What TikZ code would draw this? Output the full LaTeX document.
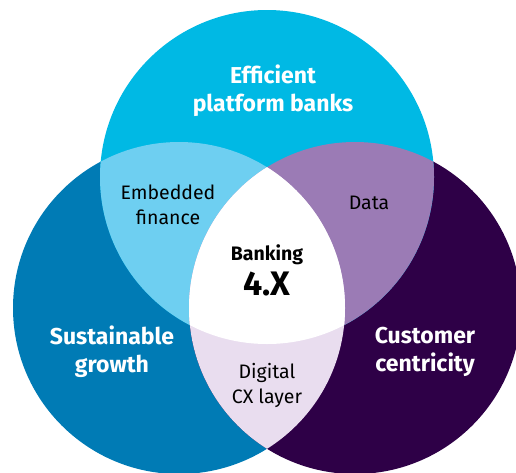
\documentclass[tikz,border=0pt]{standalone}
\usepackage{fontspec}
\setmainfont{Fira Sans}
\definecolor{topcyan}{RGB}{0,185,228}
\definecolor{leftblue}{RGB}{0,123,181}
\definecolor{rightplum}{RGB}{46,0,71}
\definecolor{tlblue}{RGB}{110,207,241}
\definecolor{trlilac}{RGB}{155,123,181}
\definecolor{lrpale}{RGB}{233,221,239}
\begin{document}
\begin{tikzpicture}[x=1pt,y=-1pt,
  big/.style={text=white,font=\bfseries\fontsize{23}{28}\selectfont,align=center},
  small/.style={text=black,font=\fontsize{19.5}{25}\selectfont,align=center}]
  \useasboundingbox (0,0) rectangle (516,472);
  \coordinate (T) at (267,177);
  \coordinate (L) at (179,308);
  \coordinate (R) at (355,308);
  \fill[leftblue] (L) circle (166pt);
  \fill[rightplum] (R) circle (166pt);
  \fill[topcyan] (T) circle (167pt);
  \begin{scope}
    \clip (T) circle (167pt);
    \fill[tlblue] (L) circle (166pt);
    \fill[trlilac] (R) circle (166pt);
  \end{scope}
  \begin{scope}
    \clip (L) circle (166pt);
    \fill[lrpale] (R) circle (166pt);
    \clip (R) circle (166pt);
    \fill[white] (T) circle (167pt);
  \end{scope}
  \node[big] (eff) at (273,91) {Efficient\\platform banks};
  \node[big] (sus) at (112,352) {Sustainable\\growth};
  \node[big] (cus) at (425,352) {Customer\\centricity};
  \node[small] (emb) at (168,205) {Embedded\\finance};
  \node[small] (dat) at (369,203) {Data};
  \node[small] (dig) at (267,385) {Digital\\CX layer};
  \node[font=\bfseries\fontsize{19.5}{22}\selectfont] (bank) at (267,255) {Banking};
  \node[font=\bfseries\fontsize{34}{34}\selectfont] (ver) at (267,284) {4.X};
\end{tikzpicture}
\end{document}
